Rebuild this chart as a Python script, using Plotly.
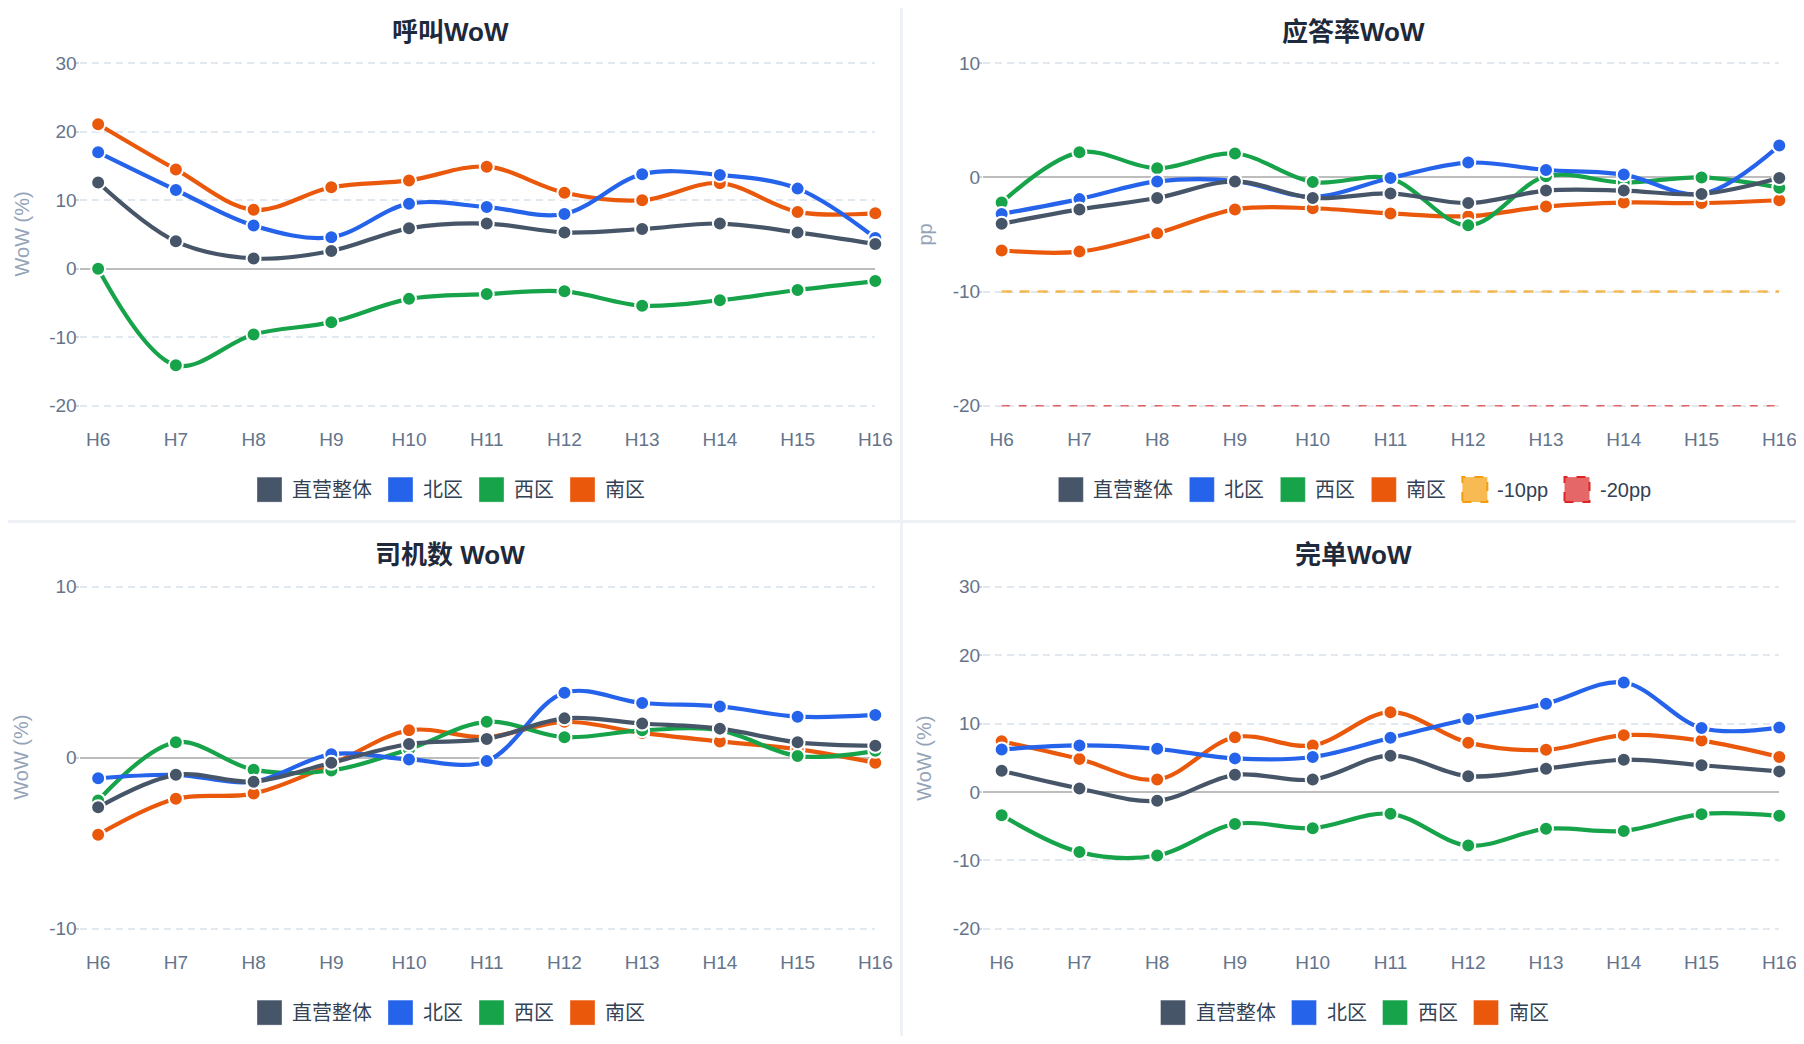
import plotly.graph_objects as go

# the page has an 8px body margin, so the figure is sized to fit inside the window
PAGE_W, PAGE_H, BODY = 1804, 1044, 8
W, H = PAGE_W - 2 * BODY, PAGE_H - 2 * BODY

HOURS = ["H6", "H7", "H8", "H9", "H10", "H11", "H12", "H13", "H14", "H15", "H16"]
REGIONS = ["直营整体", "北区", "西区", "南区"]
REGION_COLORS = {"直营整体": "#475569", "北区": "#2563eb", "西区": "#16a34a", "南区": "#ea580c"}
DRAW_ORDER = ["南区", "西区", "北区", "直营整体"]  # last one ends up on top

# 呼叫WoW (%)
CALLS_WOW = {
    "直营整体": [12.6, 4.0, 1.5, 2.6, 5.9, 6.6, 5.3, 5.8, 6.6, 5.3, 3.6],
    "北区": [17.0, 11.5, 6.3, 4.6, 9.5, 9.0, 8.0, 13.8, 13.7, 11.7, 4.5],
    "西区": [0.0, -14.1, -9.6, -7.8, -4.4, -3.7, -3.3, -5.4, -4.6, -3.1, -1.8],
    "南区": [21.1, 14.5, 8.6, 11.9, 12.9, 14.9, 11.1, 10.0, 12.5, 8.3, 8.1],
}
# 应答率WoW (pp)
ANSWER_RATE_WOW = {
    "直营整体": [-4.05, -2.8, -1.8, -0.35, -1.8, -1.4, -2.25, -1.15, -1.15, -1.45, -0.05],
    "北区": [-3.2, -1.9, -0.35, -0.3, -1.7, -0.05, 1.3, 0.65, 0.25, -1.45, 2.8],
    "西区": [-2.2, 2.2, 0.8, 2.1, -0.4, -0.1, -4.2, 0.1, -0.45, 0.0, -0.9],
    "南区": [-6.4, -6.5, -4.9, -2.8, -2.7, -3.15, -3.4, -2.55, -2.2, -2.25, -2.0],
}
ANSWER_THRESHOLDS = [-10, -20]
THRESHOLD_NAMES = ["-10pp", "-20pp"]
THRESHOLD_COLORS = ["rgba(245,158,11,0.7)", "rgba(220,38,38,0.7)"]
THRESHOLD_WIDTHS = [2.5, 1.5]
THRESHOLD_DASH = ["10px,8px", "8px,9px"]

# 司机数 WoW (%)
DRIVERS_WOW = {
    "直营整体": [-2.9, -1.0, -1.4, -0.3, 0.8, 1.1, 2.3, 2.0, 1.7, 0.9, 0.7],
    "北区": [-1.2, -1.0, -1.4, 0.2, -0.1, -0.2, 3.8, 3.2, 3.0, 2.4, 2.5],
    "西区": [-2.5, 0.9, -0.7, -0.75, 0.5, 2.1, 1.2, 1.6, 1.6, 0.1, 0.4],
    "南区": [-4.5, -2.4, -2.1, -0.4, 1.6, 1.2, 2.1, 1.45, 0.95, 0.5, -0.3],
}
# 完单WoW (%)
COMPLETED_WOW = {
    "直营整体": [3.1, 0.5, -1.3, 2.5, 1.8, 5.3, 2.3, 3.4, 4.7, 3.9, 3.0],
    "北区": [6.2, 6.8, 6.3, 4.9, 5.1, 7.9, 10.65, 12.9, 16.0, 9.35, 9.4],
    "西区": [-3.4, -8.8, -9.3, -4.7, -5.3, -3.2, -7.85, -5.4, -5.7, -3.25, -3.5],
    "南区": [7.4, 4.8, 1.8, 8.0, 6.8, 11.65, 7.2, 6.15, 8.3, 7.5, 5.1],
}

FONT = "Liberation Sans, Arial, Noto Sans CJK SC, sans-serif"
TICK_COLOR = "#64748b"

# panel layout in window pixels: card box, plot box (first..last y tick, first tick..last category)
panels = [
    dict(title="呼叫WoW", data=CALLS_WOW, yrange=[-20, 30], ytitle="WoW (%)",
         card=(0, 0, 900, 520), plot=(79.5, 63.3, 875.3, 405.7), thresholds=False),
    dict(title="应答率WoW", data=ANSWER_RATE_WOW, yrange=[-20, 10], ytitle="pp",
         card=(903, 0, 1804, 520), plot=(983, 63.3, 1779.3, 405.7), thresholds=True),
    dict(title="司机数 WoW", data=DRIVERS_WOW, yrange=[-10, 10], ytitle="WoW (%)",
         card=(0, 523, 900, 1044), plot=(79.5, 586.7, 875.3, 928.7), thresholds=False),
    dict(title="完单WoW", data=COMPLETED_WOW, yrange=[-20, 30], ytitle="WoW (%)",
         card=(903, 523, 1804, 1044), plot=(983, 586.7, 1779.3, 928.7), thresholds=False),
]


def px_x(v):
    return (v - BODY) / W


def px_y(v):
    return 1 - (v - BODY) / H


def text_width(s, size):
    w = 0
    for ch in s:
        if ord(ch) > 0x2E80:
            w += size
        elif ch == "-":
            w += 0.333 * size
        elif ch == " ":
            w += 0.278 * size
        else:
            w += 0.556 * size
    return w


fig = go.Figure()
shapes = []
annotations = []
EDGE = 2.0  # px of slack so the first/last gridlines are not dropped

for i, p in enumerate(panels):
    n = "" if i == 0 else str(i + 1)
    xname, yname = "x" + n, "y" + n
    x0, y0, x1, y1 = p["plot"]
    cx0, cy0, cx1, cy1 = p["card"]
    lo, hi = p["yrange"]
    k = (y1 - y0) / (hi - lo)
    yticks = list(range(lo, hi + 1, 10))

    fig.layout["xaxis" + n] = dict(
        domain=[px_x(x0), px_x(x1)], anchor=yname, type="category",
        range=[-0.24, len(HOURS) - 1], showgrid=False, zeroline=False, showline=False,
        ticks="", tickfont=dict(size=19, color=TICK_COLOR), ticklabelstandoff=18,
        automargin=False, fixedrange=True,
    )
    fig.layout["yaxis" + n] = dict(
        domain=[px_y(y1 + EDGE), px_y(y0 - EDGE)], anchor=xname,
        range=[lo - EDGE / k, hi + EDGE / k],
        tickvals=yticks, ticktext=[str(v) for v in yticks],  # plain hyphen, like the source
        showgrid=True, gridcolor="#e2e8f0", gridwidth=1.5, griddash="7px,5px",
        zeroline=True, zerolinecolor="#bdbdbd", zerolinewidth=2, showline=False,
        ticks="outside", ticklen=3, tickwidth=1.5, tickcolor="#cbd5e1", ticklabelstandoff=-5,
        tickfont=dict(size=19, color=TICK_COLOR), automargin=False, fixedrange=True,
    )

    if p["thresholds"]:
        for thr, color, lw, dash in zip(ANSWER_THRESHOLDS, THRESHOLD_COLORS, THRESHOLD_WIDTHS, THRESHOLD_DASH):
            fig.add_trace(go.Scatter(
                x=HOURS, y=[thr] * len(HOURS), mode="lines", xaxis=xname, yaxis=yname,
                line=dict(color=color, width=lw, dash=dash), showlegend=False, hoverinfo="skip",
            ))

    for region in DRAW_ORDER:
        fig.add_trace(go.Scatter(
            x=HOURS, y=p["data"][region], name=region, mode="lines+markers",
            xaxis=xname, yaxis=yname, cliponaxis=False,
            line=dict(color=REGION_COLORS[region], width=4.2, shape="spline", smoothing=1.0),
            marker=dict(size=14, color=REGION_COLORS[region], line=dict(color="white", width=2)),
            showlegend=False,
        ))

    # panel title
    annotations.append(dict(
        text=p["title"], x=px_x((cx0 + cx1) / 2), y=px_y(cy0 + 31.5), xref="paper", yref="paper",
        xanchor="center", yanchor="middle", showarrow=False,
        font=dict(size=26, color="#1e293b", family=FONT, weight=700),
    ))
    # y axis title
    annotations.append(dict(
        text=p["ytitle"], x=px_x(cx0 + 21), y=px_y((y0 + y1) / 2), xref="paper", yref="paper",
        xanchor="center", yanchor="middle", showarrow=False, textangle=-90,
        font=dict(size=20, color="#94a3b8", family=FONT),
    ))

    # legend, centred under each card
    items = [(r, REGION_COLORS[r], None) for r in REGIONS]
    if p["thresholds"]:
        items += list(zip(THRESHOLD_NAMES, THRESHOLD_COLORS, ["#f59e0b", "#dc2626"]))
    fs, icon, gap, sep = 20, 25, 8, 18
    total = sum(icon + gap + text_width(t, fs) for t, _, _ in items) + sep * (len(items) - 1)
    lx = (cx0 + cx1) / 2 - total / 2
    ly = cy0 + 489.6
    for label, color, border in items:
        shapes.append(dict(
            type="rect", xref="paper", yref="paper",
            x0=px_x(lx), x1=px_x(lx + icon), y0=px_y(ly + icon / 2), y1=px_y(ly - icon / 2),
            fillcolor=color,
            line=dict(color=border if border else "rgba(255,255,255,0.35)", width=2 if border else 1,
                      dash="dash" if border else "solid"),
        ))
        annotations.append(dict(
            text=label, x=px_x(lx + icon + gap), y=px_y(ly), xref="paper", yref="paper",
            xanchor="left", yanchor="middle", showarrow=False,
            font=dict(size=fs, color="#334155", family=FONT),
        ))
        lx += icon + gap + text_width(label, fs) + sep

# card dividers
shapes.append(dict(type="rect", xref="paper", yref="paper", x0=px_x(900), x1=px_x(903), y0=0, y1=1,
                   fillcolor="#eef2f7", line=dict(width=0), layer="below"))
shapes.append(dict(type="rect", xref="paper", yref="paper", x0=0, x1=1, y0=px_y(523), y1=px_y(520),
                   fillcolor="#eef2f7", line=dict(width=0), layer="below"))

fig.update_layout(
    width=W, height=H, margin=dict(l=0, r=0, t=0, b=0, pad=0, autoexpand=False),
    paper_bgcolor="white", plot_bgcolor="white",
    font=dict(family=FONT, color=TICK_COLOR),
    showlegend=False, shapes=shapes, annotations=annotations,
)

fig.write_html("out.html")
